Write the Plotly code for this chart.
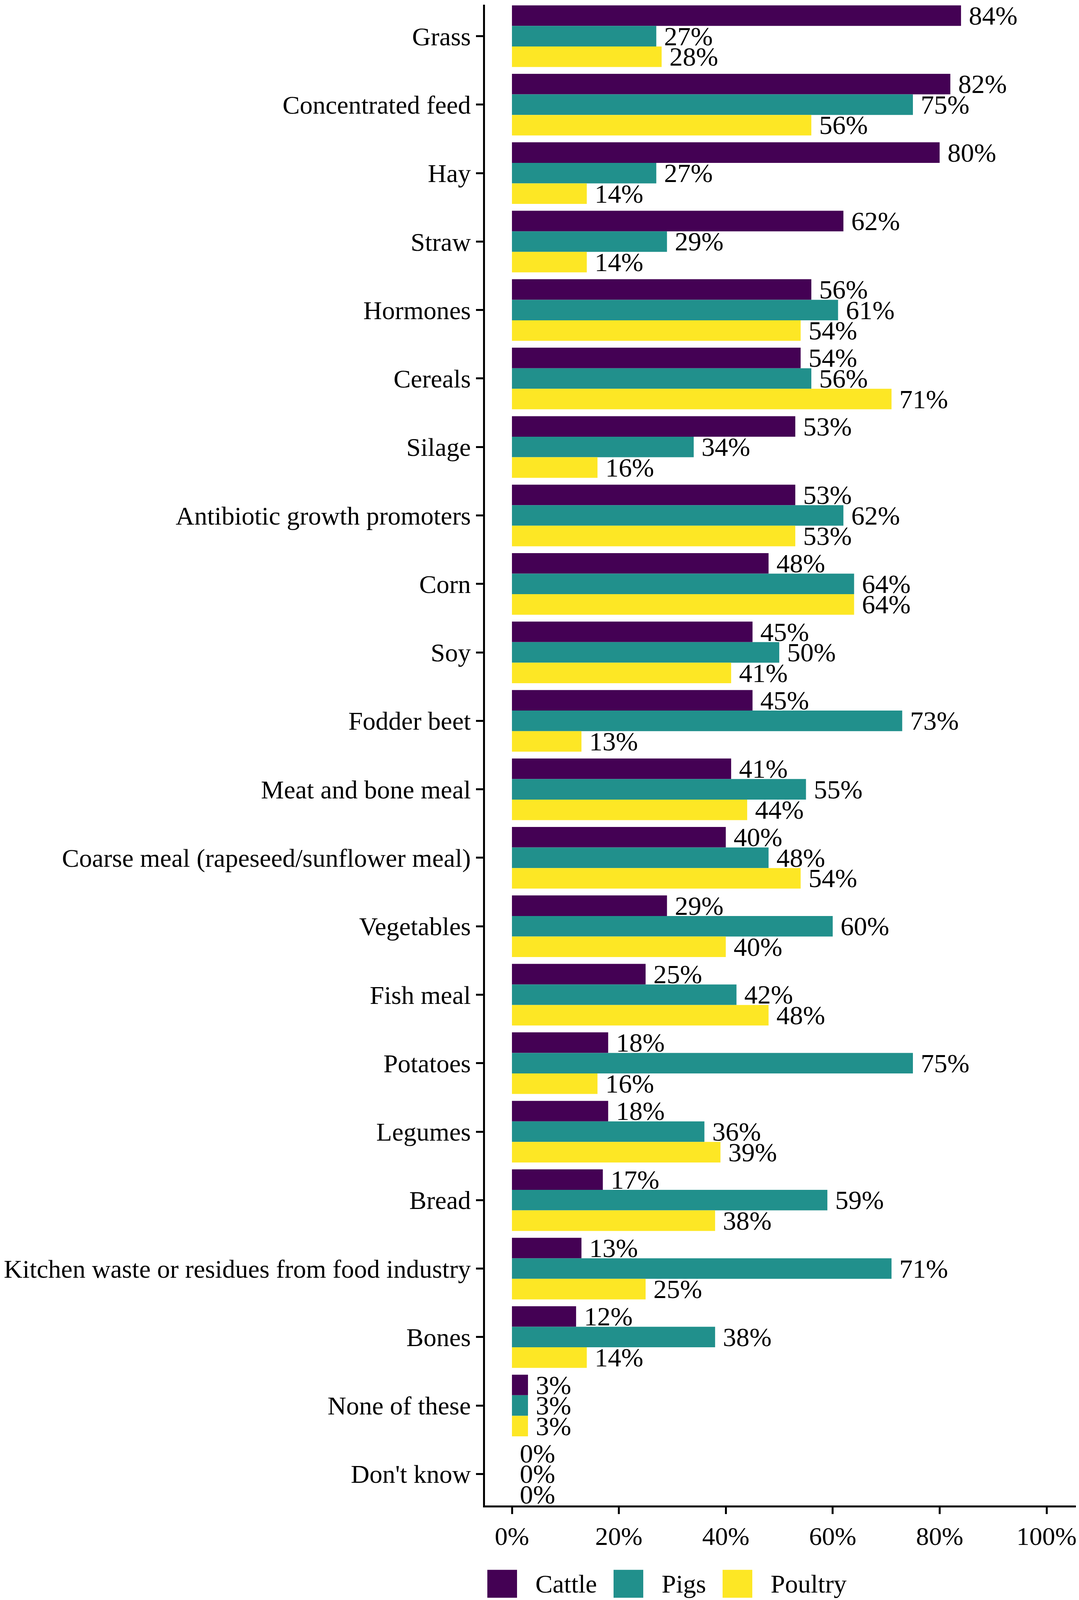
import plotly.graph_objects as go

# feed items asked about, top to bottom
feeds = ["Grass", "Concentrated feed", "Hay", "Straw", "Hormones", "Cereals",
         "Silage", "Antibiotic growth promoters", "Corn", "Soy", "Fodder beet",
         "Meat and bone meal", "Coarse meal (rapeseed/sunflower meal)",
         "Vegetables", "Fish meal", "Potatoes", "Legumes", "Bread",
         "Kitchen waste or residues from food industry", "Bones",
         "None of these", "Don't know"]

# share of respondents (%)
cattle = [84, 82, 80, 62, 56, 54, 53, 53, 48, 45, 45, 41, 40, 29, 25, 18, 18, 17, 13, 12, 3, 0]
pigs = [27, 75, 27, 29, 61, 56, 34, 62, 64, 50, 73, 55, 48, 60, 42, 75, 36, 59, 71, 38, 3, 0]
poultry = [28, 56, 14, 14, 54, 71, 16, 53, 64, 41, 13, 44, 54, 40, 48, 16, 39, 38, 25, 14, 3, 0]

series = ["Cattle", "Pigs", "Poultry"]
colors = ["#440154", "#21908C", "#FDE725"]
x_ticks = [0, 20, 40, 60, 80, 100]

# the photograph only keeps the top ~4096 px, so the chart is squeezed
# vertically to fit in it (original layout was 2761 x 4337).
# the page body adds 8px on the left, so everything is drawn 8px further left
W, H0 = 2761, 4337
H = 4086
s = H / H0
SHIFT = 8
L, R, T, B = 1241 - SHIFT, 0, 4, round(255 * s)
X0 = 1310 - SHIFT          # pixel of 0 %
PX_PER_PCT = 13.68
FONT = "Liberation Serif"
AXIS_SIZE = 66

fig = go.Figure()
for name, vals, col in zip(series, [cattle, pigs, poultry], colors):
    fig.add_trace(go.Bar(
        x=vals, y=feeds, name=name, orientation="h",
        marker=dict(color=col, line=dict(width=0)),
        text=["\u00a0%d%%" % v for v in vals],
        textposition="outside", constraintext="none", cliponaxis=False,
        textfont=dict(family=FONT, size=68, color="black"),
        showlegend=False,
    ))

fig.update_layout(
    width=W, height=H,
    margin=dict(l=L, r=R, t=T, b=B),
    barmode="group", bargap=0.1, bargroupgap=0,
    plot_bgcolor="white", paper_bgcolor="white",
    font=dict(family=FONT, size=AXIS_SIZE, color="black"),
)
fig.update_xaxes(
    range=[(L - X0) / PX_PER_PCT, (W - R - X0) / PX_PER_PCT],
    tickvals=x_ticks, ticktext=["%d%%" % t for t in x_ticks],
    showgrid=False, zeroline=False, showline=True, linecolor="black", linewidth=5,
    ticks="outside", ticklen=17, tickwidth=5, tickcolor="black",
    tickfont=dict(family=FONT, size=AXIS_SIZE, color="black"),
)
fig.update_yaxes(
    categoryorder="array", categoryarray=feeds,
    range=[len(feeds) - 1 + 0.46, -0.46],
    showgrid=False, zeroline=False, showline=True, linecolor="black", linewidth=5,
    ticks="outside", ticklen=18, tickwidth=5, tickcolor="black",
    tickfont=dict(family=FONT, size=AXIS_SIZE, color="black"),
)

# legend drawn by hand so the keys can be as large as in the original
def px_x(p):
    return (p - SHIFT - L) / (W - L - R)

def px_y(p):
    return (H - B - p) / (H - T - B)

key_left = [1247, 1570, 1849]
key_w = 76
key_h = 76 * s
key_mid = 4295 * s
for name, col, kx in zip(series, colors, key_left):
    fig.add_shape(type="rect", xref="paper", yref="paper",
                  x0=px_x(kx), x1=px_x(kx + key_w),
                  y0=px_y(key_mid - key_h / 2), y1=px_y(key_mid + key_h / 2),
                  fillcolor=col, line=dict(width=0))
    fig.add_annotation(xref="paper", yref="paper", x=px_x(kx + key_w + 45),
                       y=px_y(key_mid), text=name, showarrow=False,
                       xanchor="left", yanchor="middle",
                       font=dict(family=FONT, size=AXIS_SIZE, color="black"))

fig.write_html("out.html")
